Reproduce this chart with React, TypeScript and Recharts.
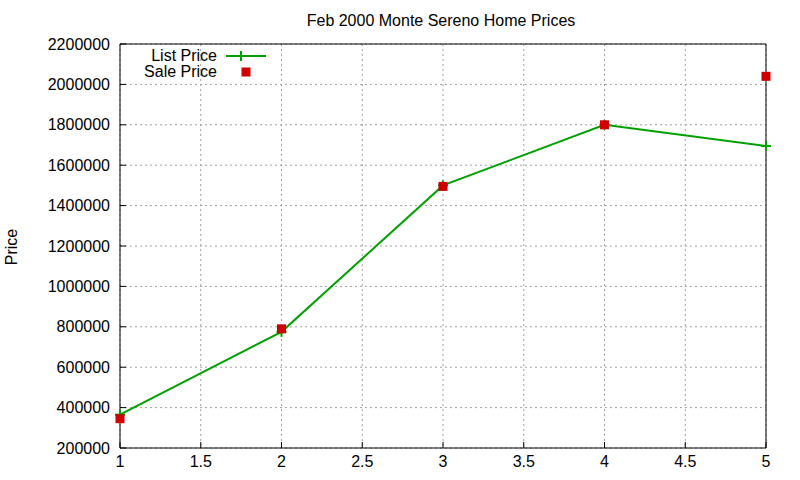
import React from 'react';
import { LineChart, Line, XAxis, YAxis, CartesianGrid } from 'recharts';

// Feb 2000 Monte Sereno home prices by index
const xValues = [1, 2, 3, 4, 5];
const listPrice = [365000, 775000, 1500000, 1800000, 1695000];
const salePrice = [345000, 790000, 1495000, 1800000, 2040000];
const xTicks = [1, 1.5, 2, 2.5, 3, 3.5, 4, 4.5, 5];
const yTicks = [200000, 400000, 600000, 800000, 1000000, 1200000, 1400000, 1600000, 1800000, 2000000, 2200000];

const GREEN = '#00a000';
const RED = '#d00000';
const FONT = '"Liberation Sans", Arial, sans-serif';

const data = xValues.map((x, i) => ({ x, list: listPrice[i], sale: salePrice[i] }));

const PlusDot = (props: any) => {
  const { cx, cy } = props;
  if (cx == null || cy == null) return null;
  return (
    <g stroke={GREEN} strokeWidth={2}>
      <line x1={cx - 5} y1={cy} x2={cx + 5} y2={cy} />
      <line x1={cx} y1={cy - 5} x2={cx} y2={cy + 5} />
    </g>
  );
};

const SquareDot = (props: any) => {
  const { cx, cy } = props;
  if (cx == null || cy == null) return null;
  return <rect x={cx - 4.5} y={cy - 4.5} width={9} height={9} fill={RED} />;
};

const tickStyle = { fill: '#000', fontSize: 16, fontFamily: FONT };

export default function App() {
  return (
    <div style={{ position: 'absolute', left: 0, top: 0, width: 800, height: 480, background: '#fff', fontFamily: FONT }}>
      <div style={{ position: 'absolute', left: 441, top: 12, transform: 'translateX(-50%)', fontSize: 16, whiteSpace: 'nowrap' }}>
        Feb 2000 Monte Sereno Home Prices
      </div>
      <div style={{ position: 'absolute', left: 12, top: 247, transform: 'translate(-50%, -50%) rotate(-90deg)', fontSize: 16 }}>
        Price
      </div>
      <LineChart width={800} height={480} data={data} margin={{ top: 43, right: 33, left: 20, bottom: 2 }}>
        <CartesianGrid stroke="#a0a0a0" strokeDasharray="2 3" />
        <XAxis
          dataKey="x"
          type="number"
          domain={[1, 5]}
          ticks={xTicks}
          height={30}
          stroke="#000"
          tickSize={-6}
          tickMargin={14}
          tick={tickStyle}
        />
        <XAxis xAxisId="top" orientation="top" dataKey="x" type="number" domain={[1, 5]} ticks={xTicks} height={1} stroke="#000" tickSize={-6} tick={false} />
        <YAxis
          type="number"
          domain={[200000, 2200000]}
          ticks={yTicks}
          width={100}
          stroke="#000"
          tickSize={-6}
          tickMargin={16}
          tick={tickStyle}
        />
        <YAxis yAxisId="right" orientation="right" type="number" domain={[200000, 2200000]} ticks={yTicks} width={1} stroke="#000" tickSize={-6} tick={false} />
        <Line dataKey="list" stroke={GREEN} strokeWidth={2} dot={<PlusDot />} activeDot={false} isAnimationActive={false} />
        <Line dataKey="sale" stroke="none" dot={<SquareDot />} activeDot={false} isAnimationActive={false} />
      </LineChart>
      <div style={{ position: 'absolute', left: 0, top: 48, width: 217, textAlign: 'right', fontSize: 16, lineHeight: '16px' }}>
        <div>List Price</div>
        <div>Sale Price</div>
      </div>
      <svg style={{ position: 'absolute', left: 220, top: 46 }} width={60} height={34}>
        <line x1={6} y1={10} x2={46} y2={10} stroke={GREEN} strokeWidth={2} />
        <line x1={21} y1={5} x2={21} y2={15} stroke={GREEN} strokeWidth={2} />
        <rect x={21.5} y={21.5} width={9} height={9} fill={RED} />
      </svg>
    </div>
  );
}
